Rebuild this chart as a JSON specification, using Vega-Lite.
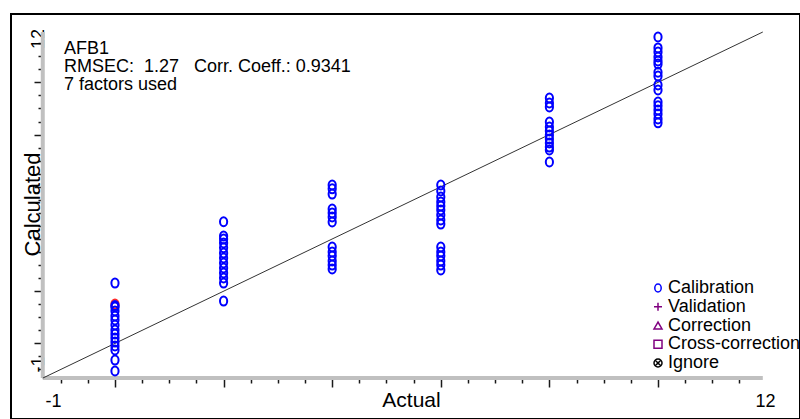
{
  "$schema": "https://vega.github.io/schema/vega-lite/v6.json",
  "width": 789,
  "height": 405,
  "autosize": {"type": "none"},
  "padding": {"left": 11, "top": 14, "right": 0, "bottom": 0},
  "background": "white",
  "config": {
    "view": {"stroke": "black", "strokeWidth": 2},
    "font": "Liberation Sans",
    "axis": {"grid": false, "tickColor": "#1a1a1a", "tickWidth": 1.5, "labelOverlap": false, "labelFlush": false, "labelBound": false}
  },
  "title": {
    "text": ["AFB1", "RMSEC:\u00a0\u00a01.27\u00a0\u00a0\u00a0Corr. Coeff.: 0.9341", "7 factors used"],
    "anchor": "start",
    "frame": "group",
    "orient": "top",
    "offset": 0,
    "baseline": "top",
    "dx": 53,
    "dy": 80,
    "fontSize": 18,
    "fontWeight": "normal",
    "font": "Liberation Sans",
    "color": "black",
    "lineHeight": 18
  },
  "resolve": {"axis": {"x": "independent", "y": "independent"}},
  "datasets": {
    "axislines": [
      {"x1": -1.33, "x2": 11.93, "y1": -1.33, "y2": -1.33},
      {"x1": -1.33, "x2": -1.33, "y1": -1.33, "y2": 11.93}
    ],
    "line": [{"x1": -1.33, "y1": -1.33, "x2": 11.93, "y2": 11.93}],
    "points": [
      {"actual": 0, "calc": 1.51, "set": "Calibration", "selected": true},
      {"actual": 0, "calc": 2.31, "set": "Calibration", "selected": false},
      {"actual": 0, "calc": 1.45, "set": "Calibration", "selected": false},
      {"actual": 0, "calc": 1.39, "set": "Calibration", "selected": false},
      {"actual": 0, "calc": 1.24, "set": "Calibration", "selected": false},
      {"actual": 0, "calc": 1.05, "set": "Calibration", "selected": false},
      {"actual": 0, "calc": 0.9, "set": "Calibration", "selected": false},
      {"actual": 0, "calc": 0.7, "set": "Calibration", "selected": false},
      {"actual": 0, "calc": 0.51, "set": "Calibration", "selected": false},
      {"actual": 0, "calc": 0.36, "set": "Calibration", "selected": false},
      {"actual": 0, "calc": 0.21, "set": "Calibration", "selected": false},
      {"actual": 0, "calc": 0.05, "set": "Calibration", "selected": false},
      {"actual": 0, "calc": -0.1, "set": "Calibration", "selected": false},
      {"actual": 0, "calc": -0.25, "set": "Calibration", "selected": false},
      {"actual": 0, "calc": -0.64, "set": "Calibration", "selected": false},
      {"actual": 0, "calc": -1.06, "set": "Calibration", "selected": false},
      {"actual": 2, "calc": 4.66, "set": "Calibration", "selected": false},
      {"actual": 2, "calc": 4.11, "set": "Calibration", "selected": false},
      {"actual": 2, "calc": 4.0, "set": "Calibration", "selected": false},
      {"actual": 2, "calc": 3.85, "set": "Calibration", "selected": false},
      {"actual": 2, "calc": 3.66, "set": "Calibration", "selected": false},
      {"actual": 2, "calc": 3.46, "set": "Calibration", "selected": false},
      {"actual": 2, "calc": 3.27, "set": "Calibration", "selected": false},
      {"actual": 2, "calc": 3.08, "set": "Calibration", "selected": false},
      {"actual": 2, "calc": 2.89, "set": "Calibration", "selected": false},
      {"actual": 2, "calc": 2.7, "set": "Calibration", "selected": false},
      {"actual": 2, "calc": 2.51, "set": "Calibration", "selected": false},
      {"actual": 2, "calc": 2.31, "set": "Calibration", "selected": false},
      {"actual": 2, "calc": 1.62, "set": "Calibration", "selected": false},
      {"actual": 4, "calc": 6.07, "set": "Calibration", "selected": false},
      {"actual": 4, "calc": 5.92, "set": "Calibration", "selected": false},
      {"actual": 4, "calc": 5.72, "set": "Calibration", "selected": false},
      {"actual": 4, "calc": 5.15, "set": "Calibration", "selected": false},
      {"actual": 4, "calc": 5.0, "set": "Calibration", "selected": false},
      {"actual": 4, "calc": 4.84, "set": "Calibration", "selected": false},
      {"actual": 4, "calc": 4.65, "set": "Calibration", "selected": false},
      {"actual": 4, "calc": 3.69, "set": "Calibration", "selected": false},
      {"actual": 4, "calc": 3.5, "set": "Calibration", "selected": false},
      {"actual": 4, "calc": 3.35, "set": "Calibration", "selected": false},
      {"actual": 4, "calc": 3.16, "set": "Calibration", "selected": false},
      {"actual": 4, "calc": 3.0, "set": "Calibration", "selected": false},
      {"actual": 4, "calc": 2.85, "set": "Calibration", "selected": false},
      {"actual": 6, "calc": 6.07, "set": "Calibration", "selected": false},
      {"actual": 6, "calc": 5.84, "set": "Calibration", "selected": false},
      {"actual": 6, "calc": 5.61, "set": "Calibration", "selected": false},
      {"actual": 6, "calc": 5.42, "set": "Calibration", "selected": false},
      {"actual": 6, "calc": 5.26, "set": "Calibration", "selected": false},
      {"actual": 6, "calc": 5.11, "set": "Calibration", "selected": false},
      {"actual": 6, "calc": 4.92, "set": "Calibration", "selected": false},
      {"actual": 6, "calc": 4.73, "set": "Calibration", "selected": false},
      {"actual": 6, "calc": 4.57, "set": "Calibration", "selected": false},
      {"actual": 6, "calc": 3.69, "set": "Calibration", "selected": false},
      {"actual": 6, "calc": 3.5, "set": "Calibration", "selected": false},
      {"actual": 6, "calc": 3.35, "set": "Calibration", "selected": false},
      {"actual": 6, "calc": 3.16, "set": "Calibration", "selected": false},
      {"actual": 6, "calc": 3.0, "set": "Calibration", "selected": false},
      {"actual": 6, "calc": 2.81, "set": "Calibration", "selected": false},
      {"actual": 8, "calc": 9.4, "set": "Calibration", "selected": false},
      {"actual": 8, "calc": 9.21, "set": "Calibration", "selected": false},
      {"actual": 8, "calc": 9.06, "set": "Calibration", "selected": false},
      {"actual": 8, "calc": 8.48, "set": "Calibration", "selected": false},
      {"actual": 8, "calc": 8.29, "set": "Calibration", "selected": false},
      {"actual": 8, "calc": 8.14, "set": "Calibration", "selected": false},
      {"actual": 8, "calc": 7.98, "set": "Calibration", "selected": false},
      {"actual": 8, "calc": 7.83, "set": "Calibration", "selected": false},
      {"actual": 8, "calc": 7.68, "set": "Calibration", "selected": false},
      {"actual": 8, "calc": 7.52, "set": "Calibration", "selected": false},
      {"actual": 8, "calc": 7.41, "set": "Calibration", "selected": false},
      {"actual": 8, "calc": 6.95, "set": "Calibration", "selected": false},
      {"actual": 10, "calc": 11.74, "set": "Calibration", "selected": false},
      {"actual": 10, "calc": 11.32, "set": "Calibration", "selected": false},
      {"actual": 10, "calc": 11.16, "set": "Calibration", "selected": false},
      {"actual": 10, "calc": 10.97, "set": "Calibration", "selected": false},
      {"actual": 10, "calc": 10.82, "set": "Calibration", "selected": false},
      {"actual": 10, "calc": 10.7, "set": "Calibration", "selected": false},
      {"actual": 10, "calc": 10.39, "set": "Calibration", "selected": false},
      {"actual": 10, "calc": 10.24, "set": "Calibration", "selected": false},
      {"actual": 10, "calc": 9.9, "set": "Calibration", "selected": false},
      {"actual": 10, "calc": 9.71, "set": "Calibration", "selected": false},
      {"actual": 10, "calc": 9.25, "set": "Calibration", "selected": false},
      {"actual": 10, "calc": 9.1, "set": "Calibration", "selected": false},
      {"actual": 10, "calc": 8.94, "set": "Calibration", "selected": false},
      {"actual": 10, "calc": 8.79, "set": "Calibration", "selected": false},
      {"actual": 10, "calc": 8.6, "set": "Calibration", "selected": false},
      {"actual": 10, "calc": 8.45, "set": "Calibration", "selected": false}
    ]
  },
  "layer": [
    {
      "data": {"name": "axislines"},
      "mark": {"type": "rule", "color": "#c0c0c0", "strokeWidth": 4},
      "encoding": {
        "x": {
          "field": "x1", "type": "quantitative",
          "scale": {"domain": [-1.915, 12.615], "nice": false, "zero": false},
          "axis": {
            "orient": "bottom", "offset": -41, "title": null, "domain": false, "labels": false,
            "tickSize": 5,
            "values": [-1, -0.5, 0.5, 1, 1.5, 2.5, 3, 3.5, 4.5, 5, 5.5, 6.5, 7, 7.5, 8.5, 9, 9.5, 10.5, 11, 11.5]
          }
        },
        "x2": {"field": "x2"},
        "y": {
          "field": "y1", "type": "quantitative",
          "scale": {"domain": [-2.897, 12.62], "nice": false, "zero": false},
          "axis": {
            "orient": "left", "offset": -32, "title": null, "domain": false, "labels": false,
            "tickSize": 5,
            "values": [-1, -0.5, 0.5, 1, 1.5, 2.5, 3, 3.5, 4.5, 5, 5.5, 6.5, 7, 7.5, 8.5, 9, 9.5, 10.5, 11, 11.5]
          }
        },
        "y2": {"field": "y2"}
      }
    },
    {
      "data": {"name": "line"},
      "mark": {"type": "rule", "color": "#333333", "strokeWidth": 1},
      "encoding": {
        "x": {
          "field": "x1", "type": "quantitative",
          "scale": {"domain": [-1.915, 12.615], "nice": false, "zero": false},
          "axis": {
            "orient": "bottom", "offset": -41, "title": null, "domain": false, "labels": false,
            "tickSize": 9,
            "values": [0, 2, 4, 6, 8, 10]
          }
        },
        "x2": {"field": "x2"},
        "y": {
          "field": "y1", "type": "quantitative",
          "scale": {"domain": [-2.897, 12.62], "nice": false, "zero": false},
          "axis": {
            "orient": "left", "offset": -32, "title": null, "domain": false, "labels": false,
            "tickSize": 9,
            "values": [0, 2, 4, 6, 8, 10]
          }
        },
        "y2": {"field": "y2"}
      }
    },
    {
      "data": {"name": "points"},
      "mark": {"type": "point", "filled": false, "strokeWidth": 2, "size": 81, "opacity": 1},
      "encoding": {
        "x": {
          "field": "actual",
          "type": "quantitative",
          "scale": {"domain": [-1.915, 12.615], "nice": false, "zero": false},
          "axis": {
            "orient": "bottom",
            "offset": -41,
            "title": "Actual",
            "titleFont": "Liberation Sans",
            "titleFontSize": 21,
            "titleFontWeight": "normal",
            "titleColor": "black",
            "titleX": 400,
            "titleY": 28,
            "titleBaseline": "alphabetic",
            "titleAlign": "center",
            "domain": false,
            "ticks": false,
            "tickSize": 0,
            "values": [-1.14, 11.97],
            "labelExpr": "datum.value < 0 ? '-1' : '12'",
            "labelAlign": "center",
            "labelBaseline": "top",
            "labelFont": "Liberation Sans",
            "labelFontSize": 18,
            "labelColor": "black",
            "labelPadding": 14
          }
        },
        "y": {
          "field": "calc",
          "type": "quantitative",
          "scale": {"domain": [-2.897, 12.62], "nice": false, "zero": false},
          "axis": {
            "orient": "left",
            "offset": -32,
            "title": "Calculated",
            "titleFont": "Liberation Sans",
            "titleFontSize": 22,
            "titleFontWeight": "normal",
            "titleColor": "black",
            "titleAngle": -90,
            "titleX": -4,
            "titleY": 190,
            "titleBaseline": "alphabetic",
            "titleAlign": "center",
            "domain": false,
            "ticks": false,
            "tickSize": 0,
            "values": [-0.79, 11.68],
            "labelExpr": "datum.value < 0 ? '-1' : '12'",
            "labelAngle": -90,
            "labelAlign": "center",
            "labelBaseline": "alphabetic",
            "labelFont": "Liberation Sans",
            "labelFontSize": 18,
            "labelColor": "black",
            "labelPadding": 0
          }
        },
        "color": {
          "condition": {"test": "datum.selected", "value": "#ff2a2a"},
          "field": "set",
          "type": "nominal",
          "scale": {
            "domain": ["Calibration", "Validation", "Correction", "Cross-correction", "Ignore"],
            "range": ["#0000ff", "#800080", "#800080", "#800080", "#000000"]
          },
          "legend": {
            "title": null,
            "orient": "none",
            "legendX": 638,
            "legendY": 265,
            "labelFont": "Liberation Sans",
            "labelFontSize": 18,
            "labelColor": "black",
            "symbolSize": 64,
            "symbolStrokeWidth": 1.5,
            "rowPadding": 0.75,
            "labelOffset": 1,
            "padding": 0,
            "labelLimit": 500
          }
        },
        "shape": {
          "field": "set",
          "type": "nominal",
          "scale": {
            "domain": ["Calibration", "Validation", "Correction", "Cross-correction", "Ignore"],
            "range": [
              "M0,-1A0.8,1 0 1,1 0,1A0.8,1 0 1,1 0,-1Z",
              "M-1,0L1,0M0,-1L0,1",
              "triangle-up",
              "square",
              "M-1,0A1,1 0 1,1 1,0A1,1 0 1,1 -1,0ZM-0.7,-0.7L0.7,0.7M-0.7,0.7L0.7,-0.7"
            ]
          },
          "legend": {
            "title": null,
            "orient": "none",
            "legendX": 638,
            "legendY": 265,
            "labelFont": "Liberation Sans",
            "labelFontSize": 18,
            "labelColor": "black",
            "symbolSize": 64,
            "symbolStrokeWidth": 1.5,
            "rowPadding": 0.75,
            "labelOffset": 1,
            "padding": 0,
            "labelLimit": 500
          }
        }
      }
    }
  ]
}
